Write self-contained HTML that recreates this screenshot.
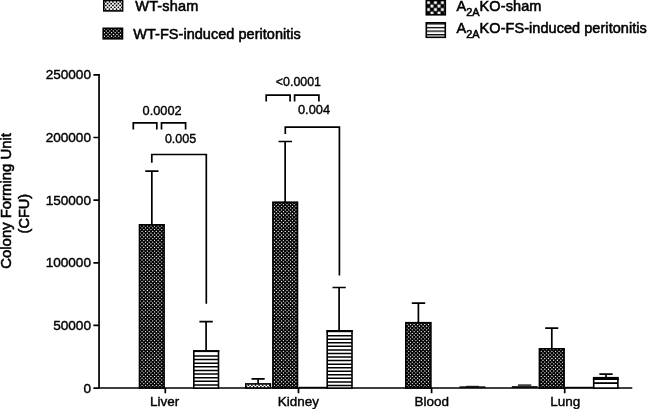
<!DOCTYPE html>
<html><head><meta charset="utf-8"><title>CFU chart</title>
<style>
html,body{margin:0;padding:0;background:#fff;}
svg{display:block;}
text{font-family:"Liberation Sans",sans-serif;fill:#000;stroke:#000;stroke-width:0.4px;}
.b text{stroke-width:0.55px;}
</style></head>
<body>
<svg width="647" height="409" viewBox="0 0 647 409">
<defs>
<pattern id="pCheck" width="7" height="7" patternUnits="userSpaceOnUse" x="426.7" y="0.8">
<rect width="7" height="7" fill="#000"/>
<rect x="0.3" y="0.3" width="2.9" height="2.9" fill="#fff"/>
<rect x="3.8" y="3.8" width="2.9" height="2.9" fill="#fff"/>
</pattern>
<pattern id="pLinesL" width="10" height="3.6" patternUnits="userSpaceOnUse" x="0" y="23.3">
<rect width="10" height="3.6" fill="#fff"/>
<rect y="0" width="10" height="1.3" fill="#000"/>
</pattern>
</defs>
<rect width="647" height="409" fill="#fff"/>

<!-- legend -->
<g stroke="#000" stroke-width="1.6">
<rect x="426.3" y="0.3" width="19" height="14.5" fill="url(#pCheck)"/>
<rect x="426.3" y="22.8" width="19" height="14.5" fill="url(#pLinesL)"/>
</g>
<g font-size="14.5" class="b">
<text x="135.3" y="10.6" letter-spacing="0.15">WT-sham</text>
<text x="133.3" y="38.6" letter-spacing="0.03">WT-FS-induced peritonitis</text>
<text x="456.6" y="10.6">A<tspan font-size="10.9" dy="4.9">2A</tspan><tspan dy="-4.9" letter-spacing="0.09">KO-sham</tspan></text>
<text x="456.6" y="33.2">A<tspan font-size="10.9" dy="4.9">2A</tspan><tspan dy="-4.9" letter-spacing="0.05">KO-FS-induced peritonitis</tspan></text>
</g>

<!-- y axis label -->
<g font-size="14.5" text-anchor="middle" class="b">
<text transform="translate(10.7,200.9) rotate(-90)" textLength="135.6" lengthAdjust="spacingAndGlyphs">Colony Forming Unit</text>
<text transform="translate(28.6,213.6) rotate(-90)" textLength="39.6" lengthAdjust="spacingAndGlyphs">(CFU)</text>
</g>

<!-- axes -->
<g stroke="#000" stroke-width="1.7" fill="none">
<path d="M99.05 73.95V388H632.3"/>
<path d="M93.4 74.8H99.1M93.4 137.5H99.1M93.4 200.1H99.1M93.4 262.8H99.1M93.4 325.4H99.1M93.4 388.1H99.1"/>
<path d="M165.3 388V393.3M298.5 388V393.3M431.6 388V393.3M564.7 388V393.3"/>
</g>
<g font-size="13.6" text-anchor="end">
<text x="91" y="79.2">250000</text>
<text x="91" y="141.9">200000</text>
<text x="91" y="204.5">150000</text>
<text x="91" y="267.1">100000</text>
<text x="91" y="329.8">50000</text>
<text x="91" y="392.9">0</text>
</g>
<g font-size="13.5" text-anchor="middle">
<text x="164.7" y="405.6">Liver</text>
<text x="298.4" y="405.6">Kidney</text>
<text x="431.8" y="405.6">Blood</text>
<text x="565.2" y="405.6">Lung</text>
</g>

<!-- error bars -->
<g stroke="#000" stroke-width="1.7" fill="none">
<path d="M151.85 225V171.1M145.3 171.1H158.5"/>
<path d="M206.1 351V321.6M199.4 321.6H212.8"/>
<path d="M258.1 383.5V378.8M251.5 378.8H264.7"/>
<path d="M285.15 202V141.5M278.5 141.5H292"/>
<path d="M339.1 331V287.5M332.5 287.5H345.8"/>
<path d="M418.4 323V303.1M411.8 303.1H425.2"/>
<path d="M551.8 348.5V328.2M545.2 328.2H558.3"/>
<path d="M606 378V374.2M599.4 374.2H612.7"/>
<path d="M517.9 385.1H531.3" stroke-width="1.3"/>
</g>

<!-- bars -->
<g stroke="#000" stroke-width="1.6">
</g>
<!-- dotted bars -->
<g id="dotbars">
<clipPath id="ca"><rect x="139.5" y="224.8" width="24.6" height="163.2"/></clipPath>
<rect x="139.5" y="224.8" width="24.6" height="163.2" fill="#000"/>
<path clip-path="url(#ca)" d="M133.08 222.44H167.7M134.87 224.23H167.7M133.08 226.02H167.7M134.87 227.81H167.7M133.08 229.60H167.7M134.87 231.39H167.7M133.08 233.18H167.7M134.87 234.97H167.7M133.08 236.76H167.7M134.87 238.55H167.7M133.08 240.34H167.7M134.87 242.13H167.7M133.08 243.92H167.7M134.87 245.71H167.7M133.08 247.50H167.7M134.87 249.29H167.7M133.08 251.08H167.7M134.87 252.87H167.7M133.08 254.66H167.7M134.87 256.45H167.7M133.08 258.24H167.7M134.87 260.03H167.7M133.08 261.82H167.7M134.87 263.61H167.7M133.08 265.40H167.7M134.87 267.19H167.7M133.08 268.98H167.7M134.87 270.77H167.7M133.08 272.56H167.7M134.87 274.35H167.7M133.08 276.14H167.7M134.87 277.93H167.7M133.08 279.72H167.7M134.87 281.51H167.7M133.08 283.30H167.7M134.87 285.09H167.7M133.08 286.88H167.7M134.87 288.67H167.7M133.08 290.46H167.7M134.87 292.25H167.7M133.08 294.04H167.7M134.87 295.83H167.7M133.08 297.62H167.7M134.87 299.41H167.7M133.08 301.20H167.7M134.87 302.99H167.7M133.08 304.78H167.7M134.87 306.57H167.7M133.08 308.36H167.7M134.87 310.15H167.7M133.08 311.94H167.7M134.87 313.73H167.7M133.08 315.52H167.7M134.87 317.31H167.7M133.08 319.10H167.7M134.87 320.89H167.7M133.08 322.68H167.7M134.87 324.47H167.7M133.08 326.26H167.7M134.87 328.05H167.7M133.08 329.84H167.7M134.87 331.63H167.7M133.08 333.42H167.7M134.87 335.21H167.7M133.08 337.00H167.7M134.87 338.79H167.7M133.08 340.58H167.7M134.87 342.37H167.7M133.08 344.16H167.7M134.87 345.95H167.7M133.08 347.74H167.7M134.87 349.53H167.7M133.08 351.32H167.7M134.87 353.11H167.7M133.08 354.90H167.7M134.87 356.69H167.7M133.08 358.48H167.7M134.87 360.27H167.7M133.08 362.06H167.7M134.87 363.85H167.7M133.08 365.64H167.7M134.87 367.43H167.7M133.08 369.22H167.7M134.87 371.01H167.7M133.08 372.80H167.7M134.87 374.59H167.7M133.08 376.38H167.7M134.87 378.17H167.7M133.08 379.96H167.7M134.87 381.75H167.7M133.08 383.54H167.7M134.87 385.33H167.7M133.08 387.12H167.7M134.87 388.91H167.7M133.08 390.70H167.7" stroke="#fff" stroke-width="1.32" stroke-linecap="round" stroke-dasharray="0 3.58" fill="none"/>
<rect x="139.5" y="224.8" width="24.6" height="163.2" fill="none" stroke="#000" stroke-width="1.6"/>
<clipPath id="cb"><rect x="272.9" y="202.2" width="24.6" height="185.8"/></clipPath>
<rect x="272.9" y="202.2" width="24.6" height="185.8" fill="#000"/>
<path clip-path="url(#cb)" d="M267.33 199.17H301.1M269.12 200.96H301.1M267.33 202.75H301.1M269.12 204.54H301.1M267.33 206.33H301.1M269.12 208.12H301.1M267.33 209.91H301.1M269.12 211.70H301.1M267.33 213.49H301.1M269.12 215.28H301.1M267.33 217.07H301.1M269.12 218.86H301.1M267.33 220.65H301.1M269.12 222.44H301.1M267.33 224.23H301.1M269.12 226.02H301.1M267.33 227.81H301.1M269.12 229.60H301.1M267.33 231.39H301.1M269.12 233.18H301.1M267.33 234.97H301.1M269.12 236.76H301.1M267.33 238.55H301.1M269.12 240.34H301.1M267.33 242.13H301.1M269.12 243.92H301.1M267.33 245.71H301.1M269.12 247.50H301.1M267.33 249.29H301.1M269.12 251.08H301.1M267.33 252.87H301.1M269.12 254.66H301.1M267.33 256.45H301.1M269.12 258.24H301.1M267.33 260.03H301.1M269.12 261.82H301.1M267.33 263.61H301.1M269.12 265.40H301.1M267.33 267.19H301.1M269.12 268.98H301.1M267.33 270.77H301.1M269.12 272.56H301.1M267.33 274.35H301.1M269.12 276.14H301.1M267.33 277.93H301.1M269.12 279.72H301.1M267.33 281.51H301.1M269.12 283.30H301.1M267.33 285.09H301.1M269.12 286.88H301.1M267.33 288.67H301.1M269.12 290.46H301.1M267.33 292.25H301.1M269.12 294.04H301.1M267.33 295.83H301.1M269.12 297.62H301.1M267.33 299.41H301.1M269.12 301.20H301.1M267.33 302.99H301.1M269.12 304.78H301.1M267.33 306.57H301.1M269.12 308.36H301.1M267.33 310.15H301.1M269.12 311.94H301.1M267.33 313.73H301.1M269.12 315.52H301.1M267.33 317.31H301.1M269.12 319.10H301.1M267.33 320.89H301.1M269.12 322.68H301.1M267.33 324.47H301.1M269.12 326.26H301.1M267.33 328.05H301.1M269.12 329.84H301.1M267.33 331.63H301.1M269.12 333.42H301.1M267.33 335.21H301.1M269.12 337.00H301.1M267.33 338.79H301.1M269.12 340.58H301.1M267.33 342.37H301.1M269.12 344.16H301.1M267.33 345.95H301.1M269.12 347.74H301.1M267.33 349.53H301.1M269.12 351.32H301.1M267.33 353.11H301.1M269.12 354.90H301.1M267.33 356.69H301.1M269.12 358.48H301.1M267.33 360.27H301.1M269.12 362.06H301.1M267.33 363.85H301.1M269.12 365.64H301.1M267.33 367.43H301.1M269.12 369.22H301.1M267.33 371.01H301.1M269.12 372.80H301.1M267.33 374.59H301.1M269.12 376.38H301.1M267.33 378.17H301.1M269.12 379.96H301.1M267.33 381.75H301.1M269.12 383.54H301.1M267.33 385.33H301.1M269.12 387.12H301.1M267.33 388.91H301.1M269.12 390.70H301.1" stroke="#fff" stroke-width="1.32" stroke-linecap="round" stroke-dasharray="0 3.58" fill="none"/>
<rect x="272.9" y="202.2" width="24.6" height="185.8" fill="none" stroke="#000" stroke-width="1.6"/>
<clipPath id="cc"><rect x="405.8" y="322.7" width="25.1" height="65.3"/></clipPath>
<rect x="405.8" y="322.7" width="25.1" height="65.3" fill="#000"/>
<path clip-path="url(#cc)" d="M399.79 320.89H434.5M401.58 322.68H434.5M399.79 324.47H434.5M401.58 326.26H434.5M399.79 328.05H434.5M401.58 329.84H434.5M399.79 331.63H434.5M401.58 333.42H434.5M399.79 335.21H434.5M401.58 337.00H434.5M399.79 338.79H434.5M401.58 340.58H434.5M399.79 342.37H434.5M401.58 344.16H434.5M399.79 345.95H434.5M401.58 347.74H434.5M399.79 349.53H434.5M401.58 351.32H434.5M399.79 353.11H434.5M401.58 354.90H434.5M399.79 356.69H434.5M401.58 358.48H434.5M399.79 360.27H434.5M401.58 362.06H434.5M399.79 363.85H434.5M401.58 365.64H434.5M399.79 367.43H434.5M401.58 369.22H434.5M399.79 371.01H434.5M401.58 372.80H434.5M399.79 374.59H434.5M401.58 376.38H434.5M399.79 378.17H434.5M401.58 379.96H434.5M399.79 381.75H434.5M401.58 383.54H434.5M399.79 385.33H434.5M401.58 387.12H434.5M399.79 388.91H434.5M401.58 390.70H434.5" stroke="#fff" stroke-width="1.32" stroke-linecap="round" stroke-dasharray="0 3.58" fill="none"/>
<rect x="405.8" y="322.7" width="25.1" height="65.3" fill="none" stroke="#000" stroke-width="1.6"/>
<clipPath id="cd"><rect x="539.4" y="348.8" width="24.7" height="39.2"/></clipPath>
<rect x="539.4" y="348.8" width="24.7" height="39.2" fill="#000"/>
<path clip-path="url(#cd)" d="M532.25 345.95H567.7M534.04 347.74H567.7M532.25 349.53H567.7M534.04 351.32H567.7M532.25 353.11H567.7M534.04 354.90H567.7M532.25 356.69H567.7M534.04 358.48H567.7M532.25 360.27H567.7M534.04 362.06H567.7M532.25 363.85H567.7M534.04 365.64H567.7M532.25 367.43H567.7M534.04 369.22H567.7M532.25 371.01H567.7M534.04 372.80H567.7M532.25 374.59H567.7M534.04 376.38H567.7M532.25 378.17H567.7M534.04 379.96H567.7M532.25 381.75H567.7M534.04 383.54H567.7M532.25 385.33H567.7M534.04 387.12H567.7M532.25 388.91H567.7M534.04 390.70H567.7" stroke="#fff" stroke-width="1.32" stroke-linecap="round" stroke-dasharray="0 3.58" fill="none"/>
<rect x="539.4" y="348.8" width="24.7" height="39.2" fill="none" stroke="#000" stroke-width="1.6"/>
<clipPath id="ce"><rect x="103.2" y="28.3" width="19.3" height="10.5"/></clipPath>
<rect x="103.2" y="28.3" width="19.3" height="10.5" fill="#000"/>
<path clip-path="url(#ce)" d="M97.28 25.54H126.1M99.07 27.33H126.1M97.28 29.12H126.1M99.07 30.91H126.1M97.28 32.70H126.1M99.07 34.49H126.1M97.28 36.28H126.1M99.07 38.07H126.1M97.28 39.86H126.1M99.07 41.65H126.1" stroke="#fff" stroke-width="1.32" stroke-linecap="round" stroke-dasharray="0 3.58" fill="none"/>
<rect x="103.2" y="28.3" width="19.3" height="10.5" fill="none" stroke="#000" stroke-width="1.6"/>
<clipPath id="cf"><rect x="103.8" y="0.5" width="18.8" height="10.4"/></clipPath>
<rect x="103.8" y="0.5" width="18.8" height="10.4" fill="#fff"/>
<path clip-path="url(#cf)" d="M98.65 -1.67H126.2M96.86 0.12H126.2M98.65 1.91H126.2M96.86 3.70H126.2M98.65 5.49H126.2M96.86 7.28H126.2M98.65 9.07H126.2M96.86 10.86H126.2M98.65 12.65H126.2M96.86 14.44H126.2" stroke="#000" stroke-width="1.8" stroke-linecap="round" stroke-dasharray="0 3.58" fill="none"/>
<rect x="103.8" y="0.5" width="18.8" height="10.4" fill="none" stroke="#000" stroke-width="1.6"/>
<clipPath id="cg"><rect x="245.8" y="383.9" width="24.6" height="4.1"/></clipPath>
<rect x="245.8" y="383.9" width="24.6" height="4.1" fill="#fff"/>
<path clip-path="url(#cg)" d="M241.14 381.52H274.0M239.35 383.31H274.0M241.14 385.10H274.0M239.35 386.89H274.0M241.14 388.68H274.0M239.35 390.47H274.0" stroke="#000" stroke-width="1.8" stroke-linecap="round" stroke-dasharray="0 3.58" fill="none"/>
<rect x="245.8" y="383.9" width="24.6" height="4.1" fill="none" stroke="#000" stroke-width="1.6"/>
</g>
<!-- hline bars -->
<rect x="193.8" y="351.1" width="24.7" height="37.0" fill="#fff" stroke="#000" stroke-width="1.6"/>
<path d="M193.8 356.0H218.5M193.8 359.61H218.5M193.8 363.22H218.5M193.8 366.83H218.5M193.8 370.44H218.5M193.8 374.05H218.5M193.8 377.66H218.5M193.8 381.27H218.5M193.8 384.88H218.5" stroke="#000" stroke-width="1.5" fill="none"/>
<path d="M193.0 351.1H219.3" stroke="#000" stroke-width="2.0" fill="none"/>
<rect x="327.2" y="331.1" width="24.8" height="57.0" fill="#fff" stroke="#000" stroke-width="1.6"/>
<path d="M327.2 335.65H352.0M327.2 339.21H352.0M327.2 342.77H352.0M327.2 346.33H352.0M327.2 349.89H352.0M327.2 353.45H352.0M327.2 357.01H352.0M327.2 360.57H352.0M327.2 364.13H352.0M327.2 367.69H352.0M327.2 371.25H352.0M327.2 374.81H352.0M327.2 378.37H352.0M327.2 381.93H352.0M327.2 385.49H352.0" stroke="#000" stroke-width="1.5" fill="none"/>
<path d="M326.4 331.1H352.8" stroke="#000" stroke-width="2.2" fill="none"/>
<rect x="593.7" y="378.45" width="24.2" height="9.65" fill="#fff" stroke="#000" stroke-width="1.6"/>
<path d="M593.7 383.1H617.9" stroke="#000" stroke-width="1.8" fill="none"/>
<path d="M592.9000000000001 378.45H618.6999999999999" stroke="#000" stroke-width="3.1" fill="none"/>
<!-- tiny bars -->
<g stroke="#000" fill="none">
<path d="M299 387.5H326.5" stroke-width="1.4"/>
<path d="M565 387.5H593.5" stroke-width="1.4"/>
<path d="M459.5 387.1H485.5" stroke-width="1.5"/>
<path d="M466 386.3H479" stroke-width="0.9"/>
<path d="M511.8 387H537.6" stroke-width="1.7"/>
</g>

<!-- brackets -->
<g stroke="#000" stroke-width="1.7" fill="none">
<path d="M133.3 129.5V122.9H156.8V129.5"/>
<path d="M161.5 129.5V122.9H185.6V129.5"/>
<path d="M151.8 162.8V154.5H206.3V303.7"/>
<path d="M266.2 101.5V95.2H290.1V101.5"/>
<path d="M294.6 101.5V95.2H318.9V101.5"/>
<path d="M285.3 134V127.1H339.4V275.4"/>
</g>
<g font-size="13.5" text-anchor="middle">
<text x="162.1" y="114.5" textLength="39" lengthAdjust="spacingAndGlyphs">0.0002</text>
<text x="180.6" y="142.8" textLength="31.4" lengthAdjust="spacingAndGlyphs">0.005</text>
<text x="298.4" y="86.2" textLength="45.2" lengthAdjust="spacingAndGlyphs">&lt;0.0001</text>
<text x="314" y="114.4" textLength="32" lengthAdjust="spacingAndGlyphs">0.004</text>
</g>
</svg>
</body></html>
